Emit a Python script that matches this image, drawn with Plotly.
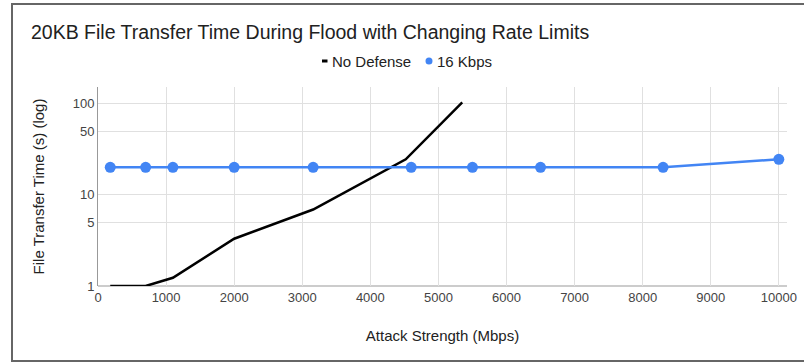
import plotly.graph_objects as go

# Data
x_no_defense = [180, 700, 1100, 2000, 3160, 4520, 5350]
y_no_defense = [1.0, 1.0, 1.23, 3.3, 6.9, 24.5, 103]

x_16kbps = [180, 700, 1100, 2000, 3160, 4600, 5500, 6500, 8300, 10000]
y_16kbps = [20, 20, 20, 20, 20, 20, 20, 20, 20, 24.5]

x_ticks = [0, 1000, 2000, 3000, 4000, 5000, 6000, 7000, 8000, 9000, 10000]
y_ticks = [1, 5, 10, 50, 100]

series_names = ["No Defense", "16 Kbps"]

BLUE = "#4285F4"
FONT = "Liberation Sans, Arial, sans-serif"

fig = go.Figure()

fig.add_trace(go.Scatter(
    x=x_no_defense, y=y_no_defense, mode="lines",
    line=dict(color="#000000", width=2.5), showlegend=False, name=series_names[0]))
fig.add_trace(go.Scatter(
    x=x_16kbps, y=y_16kbps, mode="lines+markers",
    line=dict(color=BLUE, width=2.5), marker=dict(color=BLUE, size=11),
    showlegend=False, name=series_names[1]))

L, R, T, B = 98, 17, 87, 77
W, H = 804, 363
pw, ph = W - L - R, H - T - B

def px_x(p):
    return (p - L) / pw

def px_y(p):
    return (H - B - p) / ph

LEG_Y = 61
annotations = [
    dict(text=series_names[0], xref="paper", yref="paper", x=px_x(330), y=px_y(LEG_Y),
         xanchor="left", yanchor="middle", showarrow=False,
         font=dict(size=15, color="#222222", family=FONT)),
    dict(text=series_names[1], xref="paper", yref="paper", x=px_x(434.5), y=px_y(LEG_Y),
         xanchor="left", yanchor="middle", showarrow=False,
         font=dict(size=15, color="#222222", family=FONT)),
]

shapes = [
    # x-axis baseline
    dict(type="line", xref="paper", yref="paper",
         x0=0, x1=1, y0=0, y1=0, line=dict(color="#999999", width=1), layer="below"),
    # outer frame
    dict(type="rect", xref="paper", yref="paper",
         x0=px_x(12), x1=px_x(806), y0=px_y(361), y1=px_y(4),
         line=dict(color="#666666", width=2), fillcolor="rgba(0,0,0,0)"),
    # legend symbols
    dict(type="rect", xref="paper", yref="paper",
         x0=px_x(322), x1=px_x(327.5), y0=px_y(LEG_Y + 1.5), y1=px_y(LEG_Y - 1.5),
         line=dict(width=0), fillcolor="#000000"),
    dict(type="circle", xref="paper", yref="paper",
         x0=px_x(425.5), x1=px_x(432.5), y0=px_y(LEG_Y + 3.5), y1=px_y(LEG_Y - 3.5),
         line=dict(width=0), fillcolor=BLUE),
]

fig.update_layout(
    width=W, height=H,
    margin=dict(l=L, r=R, t=T, b=B, autoexpand=False),
    paper_bgcolor="white", plot_bgcolor="white",
    font=dict(family=FONT, color="#222222"),
    showlegend=False,
    title=dict(
        text="20KB File Transfer Time During Flood with Changing Rate Limits",
        font=dict(size=19.5, color="#212121", family=FONT),
        x=31 / W, xref="container", xanchor="left",
        y=1 - 32 / H, yref="container", yanchor="middle"),
    xaxis=dict(
        range=[0, 10120], tickvals=x_ticks, ticktext=[str(v) for v in x_ticks],
        showgrid=True, gridcolor="#e0e0e0", gridwidth=1,
        zeroline=False, showline=False,
        tickfont=dict(size=13, color="#444444", family=FONT),
        ticks="", ticklabelstandoff=2, automargin=False,
        title=dict(text="Attack Strength (Mbps)", font=dict(size=15, color="#222222", family=FONT),
                   standoff=26)),
    yaxis=dict(
        type="log", range=[0, 2.182], tickvals=y_ticks, ticktext=[str(v) for v in y_ticks],
        showgrid=True, gridcolor="#e0e0e0", gridwidth=1,
        zeroline=False, showline=True, linecolor="#999999", linewidth=1,
        tickfont=dict(size=13, color="#444444", family=FONT),
        ticks="", automargin=False,
        title=dict(text="File Transfer Time (s) (log)", font=dict(size=15, color="#222222", family=FONT),
                   standoff=24)),
    annotations=annotations,
    shapes=shapes,
)

fig.write_html("out.html", config={"displayModeBar": False},
               post_script="document.body.style.margin='0';")
